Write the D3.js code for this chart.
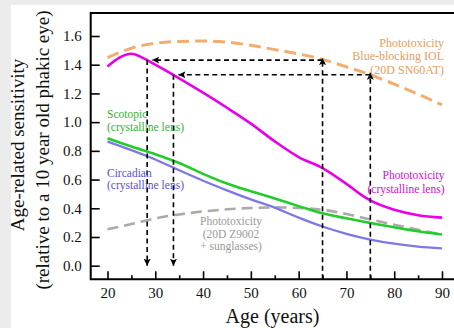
<!DOCTYPE html>
<html>
<head>
<meta charset="utf-8">
<script src="https://cdn.jsdelivr.net/npm/d3@7"></script>
<style>
  html, body { margin: 0; padding: 0; background: #ececec; }
  svg { display: block; }
  svg text { font-family: "Liberation Serif", "Times New Roman", Times, serif !important; }
</style>
</head>
<body>
<svg id="chart" width="454" height="328"></svg>
<script>
// ---------- data ----------
const ages = [20, 25, 30, 35, 40, 45, 50, 55, 60, 65, 70, 75, 80, 85, 90];
const magentaAges = [20, 22.5, 25, 27.5, 30, 35, 40, 45, 50, 55, 60, 65, 70, 73.5, 75, 80, 85, 90];
const phototoxLens = [1.388, 1.45, 1.476, 1.446, 1.40, 1.305, 1.205, 1.10, 0.99, 0.866, 0.757, 0.68, 0.57, 0.485, 0.455, 0.39, 0.352, 0.335];
const phototoxIOL = [1.45, 1.515, 1.55, 1.562, 1.565, 1.557, 1.535, 1.505, 1.475, 1.437, 1.385, 1.33, 1.265, 1.195, 1.12];
const scotopic = [0.888, 0.83, 0.777, 0.715, 0.64, 0.572, 0.518, 0.468, 0.415, 0.365, 0.33, 0.298, 0.268, 0.24, 0.217];
const circadian = [0.865, 0.805, 0.74, 0.665, 0.592, 0.525, 0.462, 0.405, 0.335, 0.273, 0.222, 0.182, 0.153, 0.133, 0.12];
const phototoxSun = [0.254, 0.29, 0.33, 0.357, 0.378, 0.393, 0.402, 0.406, 0.402, 0.389, 0.36, 0.322, 0.285, 0.25, 0.218];

const xTicks = [20, 30, 40, 50, 60, 70, 80, 90];
const xMinorTicks = [25, 35, 45, 55, 65, 75, 85];
const yTicks = [0.0, 0.2, 0.4, 0.6, 0.8, 1.0, 1.2, 1.4, 1.6];

// arrows: source age on IOL curve -> target age on lens curve
const arrowSourceAges = [65, 75];
const arrowTargetAges = [28.3, 33.8];
const arrowLevels = [1.432, 1.33];

// ---------- layout ----------
const FONT = '"Liberation Serif", "Times New Roman", Times, serif';
const svg = d3.select("#chart").attr("font-family", FONT);
const W = 454, H = 328;
const frame = { left: 90.7, top: 13, bottom: 279.3, right: 470 };

const x = d3.scaleLinear().domain([20, 90]).range([107.5, 442]);
const y = d3.scaleLinear().domain([0, 1.6]).range([265.7, 36]);

// background
svg.append("rect").attr("width", W).attr("height", H).attr("fill", "#ececec");
svg.append("rect").attr("x", 11).attr("y", 5).attr("width", W - 11).attr("height", H - 5).attr("fill", "#ffffff");

// defs: arrow marker
svg.append("defs").append("marker")
  .attr("id", "arr")
  .attr("markerUnits", "userSpaceOnUse")
  .attr("markerWidth", 8).attr("markerHeight", 7)
  .attr("refX", 7).attr("refY", 3.5)
  .attr("orient", "auto")
  .append("path").attr("d", "M0,0 L7,3.5 L0,7 L1.5,3.5 z").attr("fill", "#000");

// ---------- axes ----------
const xAxis = d3.axisBottom(x).tickValues(xTicks).tickSize(-8).tickPadding(8).tickFormat(d3.format("d"));
const gx = svg.append("g").attr("transform", `translate(0,${frame.bottom})`).call(xAxis);
const xMinor = d3.axisBottom(x).tickValues(xMinorTicks).tickSize(-4).tickFormat("");
const gxm = svg.append("g").attr("transform", `translate(0,${frame.bottom})`).call(xMinor);

const yAxis = d3.axisLeft(y).tickValues(yTicks).tickSize(-9).tickPadding(9).tickFormat(d3.format(".1f"));
const gy = svg.append("g").attr("transform", `translate(${frame.left},0)`).call(yAxis);

[gx, gxm, gy].forEach(g => {
  g.attr("font-family", FONT).attr("font-size", 15);
  g.select(".domain").remove();
  g.selectAll(".tick line").attr("stroke", "#000").attr("stroke-width", 1.6);
  g.selectAll(".tick text").attr("fill", "#111").attr("font-family", FONT).attr("font-size", 15);
});

// frame
svg.append("path")
  .attr("d", `M${frame.right},${frame.top} L${frame.left},${frame.top} L${frame.left},${frame.bottom} L${frame.right},${frame.bottom}`)
  .attr("stroke", "#000").attr("stroke-width", 2).attr("fill", "none");

// ---------- curves ----------
const line = d3.line().x(d => x(d[0])).y(d => y(d[1])).curve(d3.curveMonotoneX);
const zip = (a, b) => a.map((v, i) => [v, b[i]]);

svg.append("path").datum(zip(ages, phototoxSun)).attr("d", line)
  .attr("fill", "none").attr("stroke", "#aaaaaa").attr("stroke-width", 2.6).attr("stroke-dasharray", "11,6");
svg.append("path").datum(zip(ages, circadian)).attr("d", line)
  .attr("fill", "none").attr("stroke", "#7d78e6").attr("stroke-width", 2.3);
svg.append("path").datum(zip(ages, scotopic)).attr("d", line)
  .attr("fill", "none").attr("stroke", "#22cc2a").attr("stroke-width", 2.6);
svg.append("path").datum(zip(ages, phototoxIOL)).attr("d", line)
  .attr("fill", "none").attr("stroke", "#f2ad70").attr("stroke-width", 3).attr("stroke-dasharray", "12,6");
svg.append("path").datum(zip(magentaAges, phototoxLens)).attr("d", line)
  .attr("fill", "none").attr("stroke", "#e800e8").attr("stroke-width", 2.6);

// ---------- arrows ----------
const ag = svg.append("g").attr("stroke", "#000").attr("stroke-width", 1.6)
  .attr("stroke-dasharray", "5,3.5").attr("fill", "none");
arrowSourceAges.forEach((src, i) => {
  const lv = arrowLevels[i], tgt = arrowTargetAges[i];
  ag.append("line").attr("x1", x(src)).attr("y1", frame.bottom).attr("x2", x(src)).attr("y2", y(lv) - 2)
    .attr("marker-end", "url(#arr)");
  ag.append("line").attr("x1", x(src)).attr("y1", y(lv)).attr("x2", x(tgt) + 5).attr("y2", y(lv))
    .attr("marker-end", "url(#arr)");
  ag.append("line").attr("x1", x(tgt)).attr("y1", y(lv)).attr("x2", x(tgt)).attr("y2", y(0))
    .attr("marker-end", "url(#arr)");
});

// ---------- labels ----------
function block(lines, xp, y0, dy, anchor, color, size) {
  const t = svg.append("text").attr("text-anchor", anchor).attr("fill", color)
    .attr("font-family", FONT).attr("font-size", size);
  lines.forEach((s, i) => t.append("tspan").attr("x", xp).attr("y", y0 + i * dy).text(s));
}
block(["Phototoxicity", "Blue-blocking IOL", "(20D SN60AT)"], 444, 46.5, 13.8, "end", "#e89c5c", 12);
block(["Scotopic", "(crystalline lens)"], 107, 118, 12.5, "start", "#2fb52f", 11.5);
block(["Circadian", "(crystalline lens)"], 107, 176.5, 12.5, "start", "#5a50d0", 11.5);
block(["Phototoxicity", "(crystalline lens)"], 444.5, 179, 14, "end", "#d010d0", 11.5);
block(["Phototoxicity", "(20D Z9002", "+ sunglasses)"], 231, 225, 12.5, "middle", "#9a9a9a", 11.5);

// axis titles
svg.append("text").attr("text-anchor", "middle").attr("fill", "#111").attr("font-family", FONT).attr("font-size", 20)
  .attr("x", 272.5).attr("y", 322.5).text("Age (years)");
svg.append("text").attr("text-anchor", "middle").attr("fill", "#111").attr("font-family", FONT).attr("font-size", 19)
  .attr("transform", "translate(24,145) rotate(-90)").text("Age-related sensitivity");
svg.append("text").attr("text-anchor", "middle").attr("fill", "#111").attr("font-family", FONT).attr("font-size", 19)
  .attr("transform", "translate(49,150) rotate(-90)").text("(relative to a 10 year old phakic eye)");
</script>
</body>
</html>
